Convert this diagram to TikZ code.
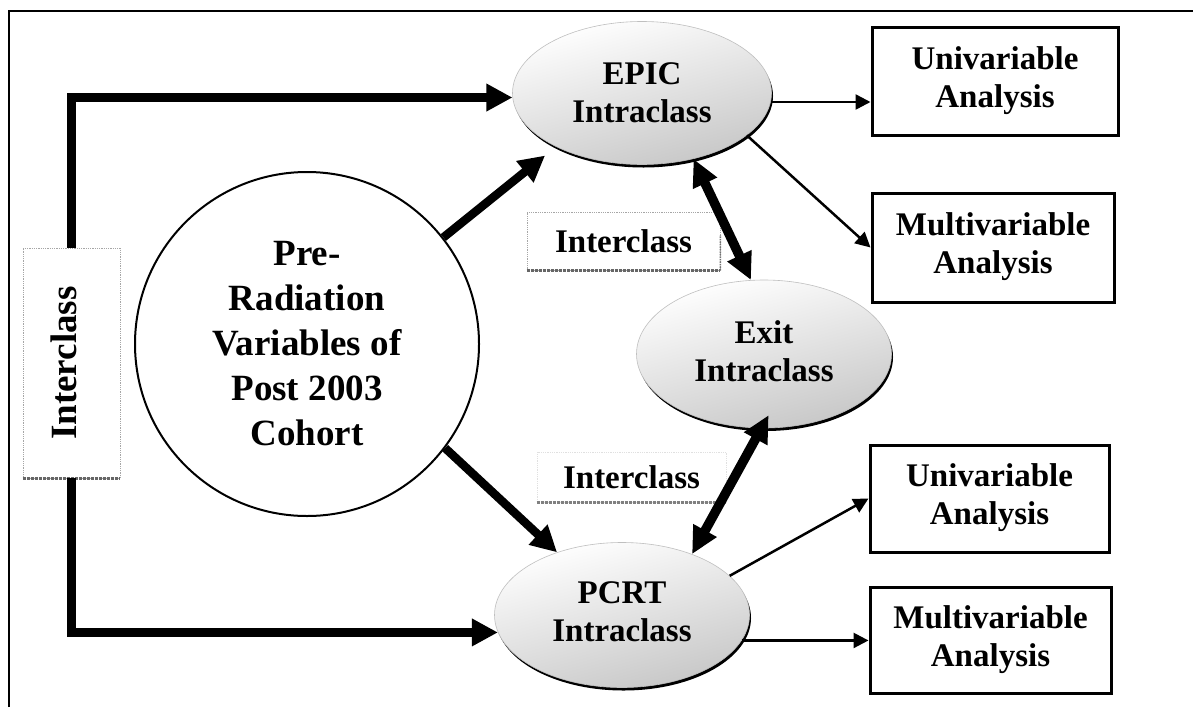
\documentclass[tikz,border=0pt]{standalone}
\usepackage{fontspec}
\setmainfont{Liberation Serif}
\usetikzlibrary{arrows.meta,shapes.geometric,shadows,calc}
\begin{document}
\begin{tikzpicture}[x=1pt,y=-1pt,
  txt/.style={font=\fontsize{33}{38}\selectfont\bfseries, align=center},
  ell/.style={ellipse, txt, inner sep=0pt, draw=black!25, line width=0.6pt,
    top color=white, bottom color=black!22, shading angle=15,
    drop shadow={shadow xshift=1.5pt, shadow yshift=-3pt, fill=black, opacity=1}},
  abox/.style={rectangle, draw, line width=3pt, txt, inner sep=0pt, text depth=8pt},
  lbl/.style={rectangle, txt, inner sep=0pt, draw=black!35, densely dotted, line width=0.8pt},
  lblshadow/.style={draw=black!60, line width=3pt, densely dotted},
  bigarrow/.style={line width=8.5pt, -{Triangle[length=26pt,width=26pt]}},
  dblarrow/.style={line width=9.5pt, {Triangle[length=27pt,width=25pt]}-{Triangle[length=27pt,width=25pt]}},
  thinarrow/.style={line width=2.5pt, -{Triangle[length=15pt,width=15pt]}},
]
\useasboundingbox (0,0) rectangle (1193,707);
\fill[white] (0,0) rectangle (1193,707);
% frame
\draw[line width=1.6pt] (9,707) -- (9,11) -- (1193,11);

% nodes
\node[circle, draw, line width=2pt, minimum size=344pt, inner sep=0pt, align=center,
      font=\fontsize{37}{45}\selectfont\bfseries] (pre) at (307,344)
      {Pre-\\Radiation\\Variables of\\Post 2003\\Cohort};

\node[ell, minimum width=259pt, minimum height=143pt] (epic) at (642,93) {EPIC\\Intraclass};
\node[ell, minimum width=255pt, minimum height=148pt, text depth=6pt] (exit) at (764,354) {Exit\\Intraclass};
\node[ell, minimum width=255pt, minimum height=145pt, text depth=6pt] (pcrt) at (622,615) {PCRT\\Intraclass};

\node[abox, minimum width=246pt, minimum height=108pt] (u1) at (995,81) {Univariable\\Analysis};
\node[abox, minimum width=242pt, minimum height=109pt] (m1) at (993,247.5) {Multivariable\\Analysis};
\node[abox, minimum width=239pt, minimum height=107pt] (u2) at (989.5,498.5) {Univariable\\Analysis};
\node[abox, minimum width=241pt, minimum height=106pt] (m2) at (990.5,640) {Multivariable\\Analysis};

% interclass labels
\node[lbl, minimum width=97pt, minimum height=230pt] (icL) at (71.5,363) {};
\node[font=\fontsize{37}{42}\selectfont\bfseries, rotate=90, inner sep=0pt] (icLt) at (64,363) {Interclass};
\draw[lblshadow] (icL.south west) -- (icL.south east);

\node[lbl, minimum width=193pt, minimum height=58pt] (icM) at (623.5,241) {Interclass};
\draw[lblshadow] (icM.south west) -- (icM.south east);
\draw[draw=black!55, line width=1.5pt, densely dotted] (icM.south east) -- ($(icM.north east)!0.4!(icM.south east)$);

\node[lbl, draw=black!12, minimum width=189pt, minimum height=50pt] (icB) at (631.5,477) {Interclass};
\draw[lblshadow, draw=black!50, line width=2.5pt] (icB.south west) -- (icB.south east);

% thick connectors
\draw[bigarrow] (icL.north) |- (epic.182);
\draw[bigarrow] (icL.south) |- (pcrt.188);
\draw[bigarrow, shorten >=14pt] (pre.38) -- (epic.212);
\draw[bigarrow] (pre.-37) -- (pcrt.136);

% double arrows
\draw[dblarrow] (epic.-52) -- (exit.100);
\draw[dblarrow, shorten <=-15pt] (exit.-92) -- (pcrt.41);

% thin connectors
\draw[thinarrow] (epic.-4) -- (epic.-4 -| u1.west);
\draw[thinarrow] (epic.-22) -- (m1.west);
\draw[thinarrow] (pcrt.20) -- (u2.west);
\draw[thinarrow] (pcrt.-12) -- (pcrt.-12 -| m2.west);
\end{tikzpicture}
\end{document}
